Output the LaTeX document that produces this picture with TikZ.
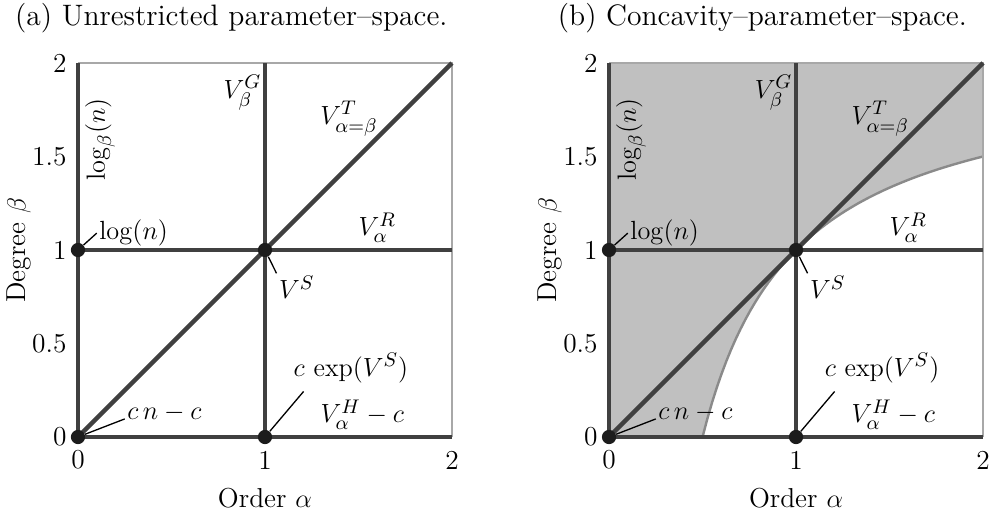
\documentclass[tikz,border=0pt]{standalone}
\usepackage{amsmath,amssymb}
\usepackage{xcolor}
\usepackage{tikz}
\usetikzlibrary{positioning,calc}
\definecolor{lineg}{HTML}{404040}
\definecolor{dotc}{HTML}{1C1C1C}
\definecolor{shadeg}{HTML}{C0C0C0}
\definecolor{curveg}{HTML}{8A8A8A}
\definecolor{frameg}{HTML}{A8A8A8}

\begin{document}
\begin{tikzpicture}[x=3cm, y=3cm, font=\fontsize{12.5}{15}\selectfont,
  thickline/.style={line width=2pt, lineg},
  frameline/.style={line width=0.9pt, frameg},
  curveline/.style={line width=1.1pt, curveg},
  dot/.style={circle, fill=dotc, inner sep=0pt, minimum size=6.5pt},
  pinline/.style={line width=0.6pt, black},
  lbl/.style={inner sep=1pt}]
\useasboundingbox (-0.4171,-0.4171) rectangle (4.872,2.337);
% concave region, only in panel (b)
\begin{scope}[xshift=8.52cm]
\fill[shadeg] (0,0) -- (0.5,0) -- plot[domain=0.5:2, samples=60] (\x,{2-1/\x}) -- (2,2) -- (0,2) -- cycle;
\draw[curveline] plot[domain=0.5:2, samples=60] (\x,{2-1/\x});
\end{scope}
% both parameter spaces
\foreach \sh/\p/\ttl in {0cm/a/{(a) Unrestricted parameter--space.}, 8.52cm/b/{(b) Concavity--parameter--space.}}{
\begin{scope}[xshift=\sh, name prefix=\p-]
\coordinate (o) at (0,0);   \coordinate (a1) at (1,0);  \coordinate (a2) at (2,0);
\coordinate (b1) at (0,1);  \coordinate (b2) at (0,2);  \coordinate (c11) at (1,1);
\coordinate (c12) at (1,2); \coordinate (c21) at (2,1); \coordinate (c22) at (2,2);
\draw[frameline] (b2) -- (c22) -- (a2);
\draw[thickline] (o) -- (b2);
\draw[thickline] (a1) -- (c12);
\draw[thickline] (o) -- (a2);
\draw[thickline] (b1) -- (c21);
\draw[thickline] (o) -- (c22);
\node[dot] (d00) at (o) {};
\node[dot] (d10) at (a1) {};
\node[dot] (d01) at (b1) {};
\node[dot] (d11) at (c11) {};
% ticks and axis names
\node (tx0) at (0,-0.123) {0};
\node (tx1) at (1,-0.123) {1};
\node (tx2) at (2,-0.123) {2};
\node[anchor=east] (ty0) at (-0.02,0) {0};
\node[anchor=east] (ty05) at (-0.02,0.5) {0.5};
\node[anchor=east] (ty1) at (-0.02,1) {1};
\node[anchor=east] (ty15) at (-0.02,1.5) {1.5};
\node[anchor=east] (ty2) at (-0.02,2) {2};
\node (xname) at (1,-0.326) {Order $\alpha$};
\node[rotate=90] (yname) at (-0.315,1) {Degree $\beta$};
\node[font=\fontsize{13.5}{16}\selectfont] (title) at (0.82,2.24) {\ttl};
% region labels
\node[lbl, rotate=90] (lgb) at (0.118,1.59) {$\log_\beta(n)$};
\node[lbl] (vg) at (0.88,1.84) {$V^G_\beta$};
\node[lbl] (vt) at (1.45,1.70) {$V^T_{\alpha=\beta}$};
\node[lbl] (vr) at (1.60,1.12) {$V^R_\alpha$};
\node[lbl] (vh) at (1.52,0.12) {$V^H_\alpha - c$};
% point labels with pins
\node[lbl, anchor=west] (lgn) at (0.10,1.09) {$\log(n)$};
\node[lbl] (vs) at (1.17,0.80) {$V^S$};
\node[lbl] (cexp) at (1.46,0.37) {$c\,\exp(V^S)$};
\node[lbl, anchor=west] (cn) at (0.25,0.13) {$c\,n - c$};
\draw[pinline] (d01) -- (lgn.west);
\draw[pinline] (d11) -- (vs.north west);
\draw[pinline] (d10) -- ([xshift=2mm,yshift=-1mm]cexp.south west);
\draw[pinline] (d00) -- ([yshift=-1mm]cn.west);
\end{scope}
}
\end{tikzpicture}
\end{document}
